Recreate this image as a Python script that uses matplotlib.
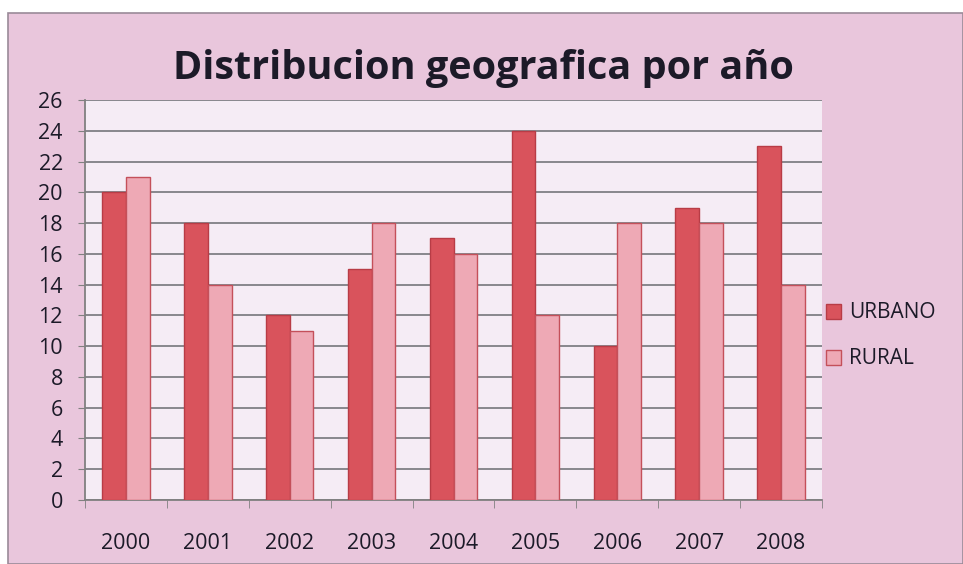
import numpy as np
import matplotlib.pyplot as plt
from matplotlib.patches import Rectangle

anios = ['2000', '2001', '2002', '2003', '2004', '2005', '2006', '2007', '2008']
urbano = [20, 18, 12, 15, 17, 24, 10, 19, 23]
rural = [21, 14, 11, 18, 16, 12, 18, 18, 14]

plt.rcParams['font.family'] = ['Open Sans', 'DejaVu Sans']
plt.rcParams['text.color'] = '#1c1a28'
plt.rcParams['xtick.labelcolor'] = '#1c1a28'
plt.rcParams['ytick.labelcolor'] = '#1c1a28'

W, H, DPI = 963, 564, 100
fig = plt.figure(figsize=(W/DPI, H/DPI), dpi=DPI, facecolor='white')

# fondo rosa del grafico
fig.patches.append(Rectangle((8/W, 0), 1 - 8/W, 1 - 13/H, transform=fig.transFigure,
                             facecolor='#e9c6dc', edgecolor='#9a8a98', lw=1.2, zorder=-10))

ax = fig.add_axes([85/W, 1 - 500/H, (822 - 85)/W, 400/H])
ax.set_facecolor('#f5ecf5')

x = np.arange(len(anios))
w = 0.29
ax.bar(x - w/2, urbano, w, color='#d9535c', edgecolor='#b83c46', lw=1, label='URBANO', zorder=3)
ax.bar(x + w/2, rural, w, color='#eea9b5', edgecolor='#c4505a', lw=1, label='RURAL', zorder=3)

ax.set_xlim(-0.5, len(anios) - 0.5)
ax.set_ylim(0, 26)
ax.set_yticks(range(0, 27, 2))
ax.yaxis.grid(True, color='#7f7f85', lw=1.3, zorder=1)
ax.set_axisbelow(True)
ax.tick_params(axis='y', labelsize=15.5, length=5, color='#808080', pad=11)

ax.set_xticks(x)
ax.set_xticklabels(anios, fontsize=15.5)
ax.set_xticks(np.arange(-0.5, len(anios), 1), minor=True)
ax.tick_params(axis='x', which='major', length=0, pad=24)
ax.tick_params(axis='x', which='minor', length=6, color='#808080')

for s in ['top', 'right']:
    ax.spines[s].set_visible(False)
for s in ['left', 'bottom']:
    ax.spines[s].set_color('#808080')
    ax.spines[s].set_linewidth(1.3)

fig.text(483/W, 1 - 68/H, 'Distribucion geografica por año', ha='center', va='center',
         fontsize=28.5, fontweight='bold')

ax.legend(loc='center left', bbox_to_anchor=(1.0, 0.41), frameon=False, fontsize=15,
          handlelength=0.7, handleheight=0.7, labelspacing=1.2, handletextpad=0.4,
          borderpad=0, borderaxespad=0.2)

fig.savefig('out.png', dpi=DPI, facecolor=fig.get_facecolor())
